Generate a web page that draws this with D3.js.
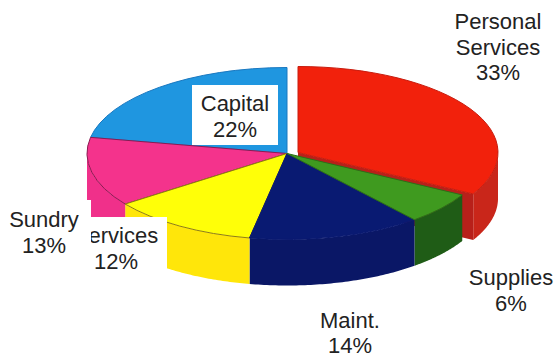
<!DOCTYPE html>
<html>
<head>
<meta charset="utf-8">
<script src="https://cdn.jsdelivr.net/npm/d3@7/dist/d3.min.js"></script>
<style>
html,body{margin:0;padding:0;background:#fff}
svg{display:block}
text{font-family:"Liberation Sans",Arial,sans-serif;font-size:22px;fill:#222;text-anchor:middle}
</style>
</head>
<body>
<svg id="chart" width="557" height="358"></svg>
<script>
// Budget shares, clockwise from twelve o'clock
const categories = ["Personal Services", "Supplies", "Maint.", "Services", "Sundry", "Capital"];
const shares = [33, 6, 14, 12, 13, 22];
const topColors = ["#f2210c", "#3f9a1f", "#091a72", "#ffff08", "#f4338c", "#1f96e0"];
const wallColors = ["#c9261a", "#1f5c16", "#0a1766", "#ffe60a", "#f0308a", "#1a80c8"];
const edgeColors = ["#c81c0e", "#2c7018", "#091870", "#8f7d10", "#8c1a52", "#1a78c0"];

const width = 557, height = 358;
const cx = 287, cy = 153.5, rx = 200, ry = 86, depth = 46;
const explode = { dx: 11, dy: -1 };   // the largest slice is pulled out of the pie

const svg = d3.select("#chart");
const arcs = d3.pie().sort(null).value(d => d)(shares);
const slices = arcs.map((a, i) => ({ ...a, i, ox: i === 0 ? explode.dx : 0, oy: i === 0 ? explode.dy : 0 }));

const px = (a, d) => cx + d.ox + rx * Math.sin(a);
const py = (a, d) => cy + d.oy - ry * Math.cos(a);

// Outer rim of a slice, restricted to the part facing the viewer
const wall = d => {
  const a0 = Math.max(d.startAngle, Math.PI / 2);
  const a1 = Math.min(d.endAngle, 3 * Math.PI / 2);
  if (a1 <= a0) return null;
  const steps = d3.range(0, 61).map(k => a0 + (a1 - a0) * k / 60);
  return d3.area()
    .x(a => px(a, d))
    .y0(a => py(a, d))
    .y1(a => py(a, d) + depth)(steps);
};

// Flat cut face running from the apex to the outer end of a slice
const cutFace = (d, a) => {
  const ax = cx + d.ox, ay = cy + d.oy;
  return d3.line()([[ax, ay], [px(a, d), py(a, d)], [px(a, d), py(a, d) + depth], [ax, ay + depth]]) + "Z";
};

const red = slices[0];
svg.append("path").attr("d", wall(red)).attr("fill", wallColors[0]);
svg.append("path").attr("d", cutFace(red, red.endAngle)).attr("fill", "#b8201a");

// Rim of the remaining slices, then all the top faces
slices.slice(1).forEach(d => {
  const p = wall(d);
  if (p) svg.append("path").attr("d", p).attr("fill", wallColors[d.i]);
});

const arc = d3.arc().innerRadius(0).outerRadius(100);
slices.slice().reverse().forEach(d => {
  svg.append("path")
    .attr("d", arc(d))
    .attr("transform", `translate(${cx + d.ox},${cy + d.oy}) scale(${rx / 100},${ry / 100})`)
    .attr("fill", topColors[d.i])
    .attr("stroke", edgeColors[d.i])
    .attr("stroke-width", 1)
    .attr("vector-effect", "non-scaling-stroke");
});

// White label panels sitting on top of the pie
const panels = [[192, 85, 86, 60], [0, 200, 91, 66], [90, 217, 77, 55]];
svg.selectAll("rect.panel").data(panels).join("rect")
  .attr("class", "panel")
  .attr("x", d => d[0]).attr("y", d => d[1])
  .attr("width", d => d[2]).attr("height", d => d[3])
  .attr("fill", "#fff");

svg.append("clipPath").attr("id", "services-clip")
  .append("rect").attr("x", 91).attr("y", 217).attr("width", 76).attr("height", 60);

const labelLayout = [
  { x: 498, y: 29, lead: 25.5 },
  { x: 511, y: 285, lead: 25.5 },
  { x: 350, y: 328, lead: 24.5 },
  { x: 116, y: 243, lead: 25.5, clip: true },
  { x: 44, y: 227, lead: 25.5 },
  { x: 235, y: 111, lead: 25.5 }
];

labelLayout.forEach((l, i) => {
  const words = i === 0 ? categories[0].split(" ") : [categories[i]];
  const rows = [...words, shares[i] + "%"];
  const t = svg.append("text").attr("x", l.x).attr("y", l.y);
  if (l.clip) t.attr("clip-path", "url(#services-clip)");
  rows.forEach((r, k) => {
    t.append("tspan").attr("x", l.x).attr("dy", k ? l.lead : 0).text(r);
  });
});
</script>
</body>
</html>
